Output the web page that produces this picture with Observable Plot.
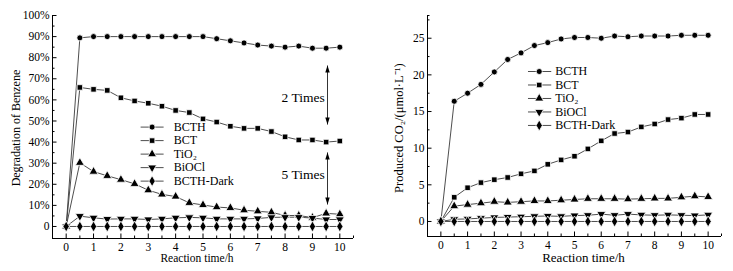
<!DOCTYPE html>
<html><head><meta charset="utf-8">
<script src="https://cdn.jsdelivr.net/npm/d3@7"></script>
<script src="https://cdn.jsdelivr.net/npm/@observablehq/plot@0.6"></script>
<style>
body{margin:0;background:#fff;}
#wrap{position:relative;width:733px;height:271px;overflow:hidden;}
#left{position:absolute;left:0;top:0;}
#right{position:absolute;left:366px;top:0;}
#wrap svg, #wrap svg text{font-family:"Liberation Serif","Times New Roman",Times,serif !important;}
</style></head><body><div id="wrap"><div id="left"></div><div id="right"></div></div>
<script>
// ---- data ----
const times = [0,0.5,1,1.5,2,2.5,3,3.5,4,4.5,5,5.5,6,6.5,7,7.5,8,8.5,9,9.5,10];
const seriesNames = ["BCTH","BCT","TiO₂","BiOCl","BCTH-Dark"];

// Degradation of benzene (%)
const degBCTH  = [0,89.4,90,90,90,90,90,90,90,90,90,89,88,87,86,85.5,85,85.5,84.5,84.5,85];
const degBCT   = [0,65.9,65,64.5,61,59.5,58.4,57,55,54,51,49.5,47.5,46.5,46.5,45,42.5,41,41,40,40.5];
const degTiO2  = [0,30.2,26,24,22.2,20.2,17.2,15.2,14.2,11.2,10.2,9.2,8.8,7.7,7.2,6.7,5.2,5.2,4.2,6.2,5.8];
const degBiOCl = [0,4.9,4.1,3.5,3.6,3.6,3.3,3.6,4.1,4.3,4.1,3.6,3.6,3.6,3.8,4.3,4.4,4.4,4.0,3.3,3.3];
const degDark  = [0,0,0,0,0,0,0,0,0,0,0,0,0,0,0,0,0,0,0,0,0];

// Produced CO2 (umol/L)
const co2BCTH  = [0,16.4,17.5,18.7,20.4,22.1,23.0,24.0,24.4,24.9,25.1,25.1,25.0,25.3,25.2,25.3,25.3,25.3,25.4,25.4,25.4];
const co2BCT   = [0,3.3,4.6,5.3,5.7,6.0,6.5,6.9,7.8,8.4,8.9,9.9,11.0,12.0,12.2,12.9,13.3,13.9,14.1,14.6,14.6];
const co2TiO2  = [0,2.1,2.3,2.5,2.7,2.6,2.7,2.8,2.8,2.9,3.0,3.1,3.1,3.1,3.05,3.1,3.15,3.15,3.3,3.45,3.35];
const co2BiOCl = [0,0.3,0.35,0.45,0.55,0.6,0.65,0.7,0.75,0.7,0.8,0.85,1.0,0.85,1.0,0.9,0.85,0.9,0.85,0.8,0.9];
const co2Dark  = [0,0,0,0,0,0,0,0,0,0,0,0,0,0,0,0,0,0,0,0,0];

const xMajorTicks = [0,1,2,3,4,5,6,7,8,9,10];
const xMinorTicks = [0.5,1.5,2.5,3.5,4.5,5.5,6.5,7.5,8.5,9.5];
const degMajorTicks = [0,10,20,30,40,50,60,70,80,90,100];
const degMinorTicks = [5,15,25,35,45,55,65,75,85,95];
const co2MajorTicks = [0,5,10,15,20,25];
const co2MinorTicks = [2.5,7.5,12.5,17.5,22.5,27.5];

const annotLabels = ["2 Times","5 Times"];
const annotArrowTop = [76.3, 35.1];
const annotArrowBottom = [48.3, 10.4];
const annotTextY = [61.1, 24.6];

// ---- layout / style ----
const FONT = "Liberation Serif, Times New Roman, serif";
const triDown = {draw(ctx, size){ const y = -Math.sqrt(size/(Math.sqrt(3)*3)); ctx.moveTo(0,-y*2); ctx.lineTo(-Math.sqrt(3)*y, y); ctx.lineTo(Math.sqrt(3)*y, y); ctx.closePath(); }};
const headUp = {draw(ctx){ ctx.moveTo(0,0); ctx.lineTo(-2.2,7); ctx.lineTo(2.2,7); ctx.closePath(); }};
const headDown = {draw(ctx){ ctx.moveTo(0,0); ctx.lineTo(-2.2,-7); ctx.lineTo(2.2,-7); ctx.closePath(); }};
const symbols = ["circle","square","triangle",triDown,"diamond"];
const radii = [3,3.1,3.3,3.3,3.3];

function seriesMarks(valsList){
  const marks = [];
  valsList.forEach((vals) => {
    const rows = times.map((t,i)=>({t, v: vals[i]}));
    marks.push(Plot.line(rows, {x:"t", y:"v", stroke:"#3a3a3a", strokeWidth:0.9}));
  });
  valsList.forEach((vals, k) => {
    const rows = times.map((t,i)=>({t, v: vals[i]}));
    marks.push(Plot.dot(rows, {x:"t", y:"v", symbol: symbols[k], r: radii[k], fill:"black", stroke:"white", strokeWidth:0.8}));
  });
  return marks;
}
function legendMarks(lx1, lx2, lxm, ltx, ly0, lstep){
  const rows = seriesNames.map((name,i)=>({name, y: ly0 - i*lstep, i}));
  const marks = [Plot.link(rows, {x1: lx1, x2: lx2, y1:"y", y2:"y", stroke:"#3a3a3a", strokeWidth:0.9})];
  rows.forEach((r,i)=>{
    marks.push(Plot.dot([r], {x: lxm, y:"y", symbol: symbols[i], r: radii[i], fill:"black", stroke:"white", strokeWidth:0.8}));
  });
  marks.push(Plot.text(rows, {x: ltx, y:"y", text:"name", textAnchor:"start", fontSize:12, fill:"black"}));
  return marks;
}
function axisMarks(yMajor, yMinor, yFmt, xDom, yDom, xPad){
  return [
    Plot.ruleX([xDom[0]], {stroke:"black", strokeWidth:1}),
    Plot.ruleY([yDom[0]], {stroke:"black", strokeWidth:1}),
    Plot.axisX(xMajorTicks, {tickSize:-4.5, tickPadding:xPad, tickFormat:d=>String(d), fontSize:11.5, label:null, stroke:"black", fill:"black"}),
    Plot.axisX(xMinorTicks.concat([xDom[1]]), {tickSize:-2.5, tickFormat:()=>"", label:null, stroke:"black"}),
    Plot.axisY(yMajor, {tickSize:-4.5, tickPadding:7.5, tickFormat:yFmt, fontSize:11.5, label:null, stroke:"black", fill:"black"}),
    Plot.axisY(yMinor.concat([yDom[1]]), {tickSize:-2.5, tickFormat:()=>"", label:null, stroke:"black"})
  ];
}

// ---- left chart ----
const degX = [-0.5, 10.5], degY = [-5.7, 100];
const annotRows = annotLabels.map((s,i)=>({s, top: annotArrowTop[i], bot: annotArrowBottom[i], ty: annotTextY[i]}));
const left = Plot.plot({
  width:366, height:271, marginLeft:52, marginRight:13, marginTop:15, marginBottom:33,
  style:{fontFamily:FONT, fontSize:"12px", background:"white", color:"black", overflow:"visible"},
  x:{domain:degX}, y:{domain:degY},
  marks:[
    ...axisMarks(degMajorTicks, degMinorTicks, d => d===0 ? "0" : d+"%", degX, degY, 8.5),
    ...seriesMarks([degBCTH, degBCT, degTiO2, degBiOCl, degDark]),
    ...legendMarks(2.72, 3.56, 3.14, 3.93, 47.1, 6.4),
    Plot.link(annotRows, {x1:9.55, x2:9.55, y1:"top", y2:"bot", stroke:"black", strokeWidth:0.8}),
    Plot.dot(annotRows, {x:9.55, y:"top", symbol: headUp, fill:"black", stroke:"none"}),
    Plot.dot(annotRows, {x:9.55, y:"bot", symbol: headDown, fill:"black", stroke:"none"}),
    Plot.text(annotRows, {x:8.66, y:"ty", text:"s", fontSize:13.5, fill:"black"}),
    Plot.text(["Degradation of Benzene"], {x:degX[0], y:(degY[0]+degY[1])/2 - 0.5, dx:-36, rotate:-90, text:d=>d, fontSize:12, fill:"black"}),
    Plot.text(["Reaction time/h"], {frameAnchor:"bottom", dx:-6, dy:23.5, text:d=>d, fontSize:11.5, fill:"black"})
  ]
});
document.getElementById("left").appendChild(left);

// ---- right chart ----
const co2X = [-0.5, 10.5], co2Y = [-2.05, 28.1];
const right = Plot.plot({
  width:367, height:271, marginLeft:61, marginRight:12, marginTop:15, marginBottom:35,
  style:{fontFamily:FONT, fontSize:"12px", background:"white", color:"black", overflow:"visible"},
  x:{domain:co2X}, y:{domain:co2Y},
  marks:[
    ...axisMarks(co2MajorTicks, co2MinorTicks, d => String(d), co2X, co2Y, 9),
    ...seriesMarks([co2BCTH, co2BCT, co2TiO2, co2BiOCl, co2Dark]),
    ...legendMarks(3.26, 4.13, 3.68, 4.28, 20.46, 1.84),
    Plot.text(["Produced CO₂/(μmol·L⁻¹)"], {x:co2X[0], y:(co2Y[0]+co2Y[1])/2 - 0.3, dx:-29, rotate:-90, text:d=>d, fontSize:12.5, fill:"black"}),
    Plot.text(["Reaction time/h"], {frameAnchor:"bottom", dx:9, dy:25.5, text:d=>d, fontSize:13, fill:"black"})
  ]
});
document.getElementById("right").appendChild(right);
</script></body></html>
